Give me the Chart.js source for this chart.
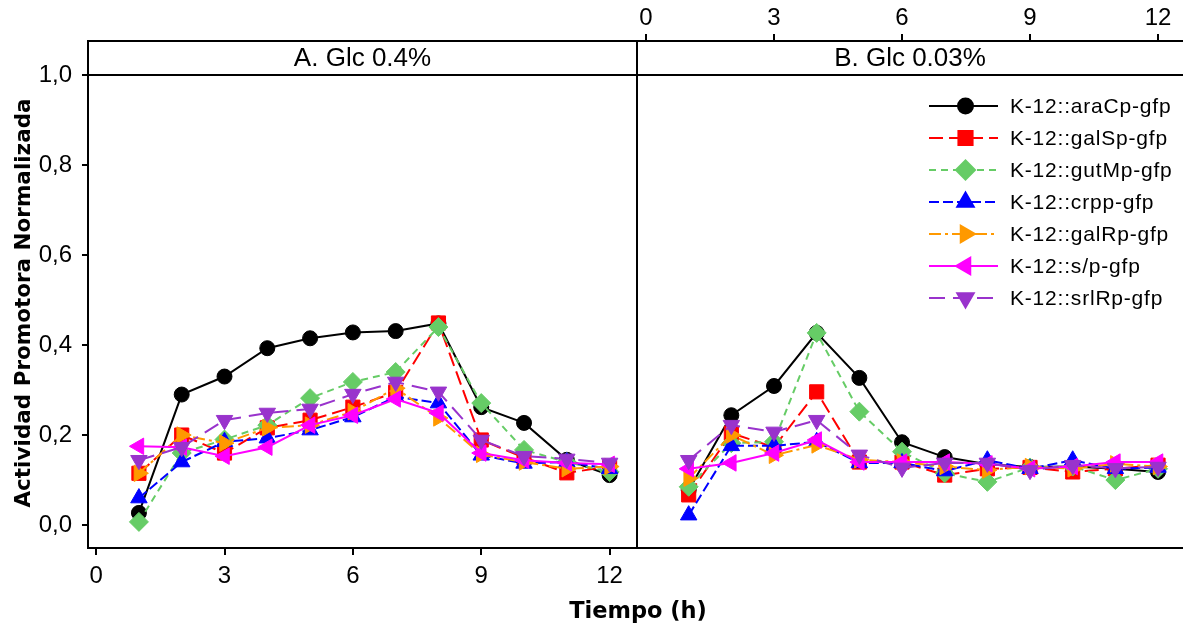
<!DOCTYPE html>
<html>
<head>
<meta charset="utf-8">
<script src="https://cdn.jsdelivr.net/npm/chart.js@4.4.0/dist/chart.umd.min.js"></script>
<style>
html, body { margin: 0; padding: 0; background: #fff; }
#wrap { position: relative; width: 1183px; height: 625px; overflow: hidden; }
#wrap canvas { position: absolute; left: 0; top: 0; }
</style>
</head>
<body>
<div id="wrap">
<canvas id="panelA" width="1183" height="625"></canvas>
<canvas id="panelB" width="1183" height="625"></canvas>
</div>
<script>
// Time points (h) and axis ticks
const hours = [1, 2, 3, 4, 5, 6, 7, 8, 9, 10, 11, 12];
const xTicks = [0, 3, 6, 9, 12];
const yTicks = [0, 0.2, 0.4, 0.6, 0.8, 1.0];
const panelTitles = ['A. Glc 0.4%', 'B. Glc 0.03%'];
const xTitle = 'Tiempo (h)';
const yTitle = 'Actividad Promotora Normalizada';
const seriesNames = [
  'K-12::araCp-gfp', 'K-12::galSp-gfp', 'K-12::gutMp-gfp', 'K-12::crpp-gfp',
  'K-12::galRp-gfp', 'K-12::s/p-gfp', 'K-12::srlRp-gfp'
];

// Panel A: Glc 0.4%
const araCpA = [0.027, 0.290, 0.330, 0.393, 0.415, 0.428, 0.431, 0.448, 0.262, 0.227, 0.145, 0.111];
const galSpA = [0.115, 0.200, 0.160, 0.216, 0.233, 0.262, 0.295, 0.449, 0.189, 0.150, 0.116, 0.130];
const gutMpA = [0.007, 0.160, 0.190, 0.222, 0.282, 0.318, 0.340, 0.440, 0.271, 0.167, 0.140, 0.118];
const crppA  = [0.060, 0.140, 0.185, 0.193, 0.211, 0.240, 0.285, 0.271, 0.155, 0.137, 0.140, 0.125];
const galRpA = [0.115, 0.200, 0.182, 0.216, 0.222, 0.252, 0.304, 0.238, 0.157, 0.140, 0.125, 0.130];
const slpA   = [0.175, 0.173, 0.153, 0.173, 0.222, 0.244, 0.280, 0.249, 0.160, 0.144, 0.138, 0.135];
const srlRpA = [0.144, 0.173, 0.233, 0.249, 0.258, 0.291, 0.318, 0.296, 0.189, 0.153, 0.147, 0.138];

// Panel B: Glc 0.03%
const araCpB = [0.078, 0.244, 0.309, 0.427, 0.327, 0.184, 0.151, 0.135, 0.129, 0.130, 0.125, 0.118];
const galSpB = [0.067, 0.204, 0.173, 0.296, 0.140, 0.140, 0.111, 0.125, 0.128, 0.118, 0.125, 0.133];
const gutMpB = [0.085, 0.182, 0.185, 0.427, 0.252, 0.163, 0.115, 0.096, 0.128, 0.130, 0.100, 0.125];
const crppB  = [0.022, 0.176, 0.176, 0.185, 0.138, 0.138, 0.120, 0.144, 0.125, 0.144, 0.125, 0.128];
const galRpB = [0.104, 0.200, 0.155, 0.178, 0.145, 0.140, 0.130, 0.122, 0.130, 0.125, 0.136, 0.130];
const slpB   = [0.125, 0.138, 0.160, 0.189, 0.140, 0.140, 0.140, 0.136, 0.125, 0.130, 0.140, 0.140];
const srlRpB = [0.144, 0.222, 0.207, 0.233, 0.156, 0.127, 0.138, 0.138, 0.122, 0.133, 0.126, 0.129];

const seriesA = [araCpA, galSpA, gutMpA, crppA, galRpA, slpA, srlRpA];
const seriesB = [araCpB, galSpB, gutMpB, crppB, galRpB, slpB, srlRpB];

// Look of each series
const colors = ['#000000', '#ff0000', '#66cc66', '#0000ff', '#ff9900', '#ff00ff', '#9933cc'];
const dashes = [[], [14, 6], [7, 5], [10, 4], [12, 4, 3, 4], [], [16, 8]];
const pointStyles = ['circle', 'rect', 'rectRot', 'triangle', 'triangle', 'triangle', 'triangle'];
const rotations = [0, 0, 0, 0, 90, -90, 180];
const radii = [7.5, 10, 9.5, 9.5, 9.5, 9.5, 9.5];

const tickFont = { family: '"Liberation Sans", Arial, sans-serif', size: 24 };

function makeDatasets(series) {
  return series.map((vals, i) => ({
    label: seriesNames[i],
    data: hours.map((h, k) => ({ x: h, y: vals[k] })),
    borderColor: colors[i],
    backgroundColor: colors[i],
    borderWidth: 2,
    borderDash: dashes[i],
    pointStyle: pointStyles[i],
    pointRotation: rotations[i],
    pointRadius: radii[i],
    pointBackgroundColor: colors[i],
    pointBorderColor: colors[i],
    pointBorderWidth: 1,
    tension: 0,
    order: 6 - i
  }));
}

function setTicks(list) {
  return (scale) => { scale.ticks = list.map(v => ({ value: v })); };
}

function drawFrame(chart, isLeft) {
  const { ctx, chartArea: a } = chart;
  const y1 = chart.scales.y.getPixelForValue(1);
  ctx.save();
  ctx.strokeStyle = '#000';
  ctx.lineWidth = 2;
  ctx.beginPath();
  ctx.moveTo(a.left, a.bottom);
  ctx.lineTo(a.left, a.top);
  ctx.lineTo(a.right, a.top);
  if (isLeft) {
    ctx.moveTo(a.right, a.top);
    ctx.lineTo(a.right, a.bottom);
  }
  ctx.moveTo(a.left - 1, a.bottom);
  ctx.lineTo(a.right, a.bottom);
  ctx.moveTo(a.left, y1);
  ctx.lineTo(a.right, y1);
  ctx.stroke();

  // strip label
  ctx.fillStyle = '#000';
  ctx.font = '26px "Liberation Sans", Arial, sans-serif';
  ctx.textAlign = 'center';
  ctx.textBaseline = 'middle';
  ctx.fillText(panelTitles[isLeft ? 0 : 1], (a.left + a.right) / 2, (a.top + y1) / 2 + 1);
  ctx.restore();
}

const panelAPlugin = {
  id: 'panelA',
  afterDatasetsDraw(chart) {
    drawFrame(chart, true);
    const ctx = chart.ctx;
    ctx.save();
    ctx.fillStyle = '#000';
    ctx.font = 'bold 22.5px "DejaVu Sans", Verdana, sans-serif';
    ctx.textAlign = 'center';
    ctx.textBaseline = 'alphabetic';
    ctx.fillText(xTitle, 638, 618);
    ctx.translate(30, 303);
    ctx.rotate(-Math.PI / 2);
    ctx.font = 'bold 21.5px "DejaVu Sans", Verdana, sans-serif';
    ctx.fillText(yTitle, 0, 0);
    ctx.restore();
  }
};

const panelBPlugin = {
  id: 'panelB',
  afterDatasetsDraw(chart) {
    drawFrame(chart, false);
    // legend
    const ctx = chart.ctx;
    const x0 = 929, x1 = 998, xm = 965.5, xt = 1010;
    ctx.save();
    seriesNames.forEach((name, i) => {
      const y = 106 + i * 32;
      ctx.strokeStyle = colors[i];
      ctx.fillStyle = colors[i];
      ctx.lineWidth = 2;
      ctx.setLineDash(dashes[i]);
      ctx.beginPath();
      ctx.moveTo(x0, y);
      ctx.lineTo(x1, y);
      ctx.stroke();
      ctx.setLineDash([]);
      Chart.helpers.drawPoint(ctx, {
        pointStyle: pointStyles[i], rotation: rotations[i], radius: radii[i], borderWidth: 1
      }, xm, y);
      ctx.fillStyle = '#000';
      ctx.font = '21px "Liberation Sans", Arial, sans-serif';
      ctx.letterSpacing = '0.8px';
      ctx.textAlign = 'left';
      ctx.textBaseline = 'middle';
      ctx.fillText(name, xt, y + 1);
      ctx.letterSpacing = '0px';
    });
    ctx.restore();
  }
};

function axisGrid(len) {
  return { display: true, drawOnChartArea: false, drawTicks: true, tickLength: len, color: '#000', lineWidth: 2 };
}

function fixHeight(h) {
  return (s) => { s.height = h; s.paddingLeft = 0; s.paddingRight = 0; };
}

const commonOpts = {
  responsive: false,
  animation: false,
  events: [],
  plugins: { legend: { display: false }, tooltip: { enabled: false } }
};

new Chart(document.getElementById('panelA'), {
  type: 'line',
  data: { datasets: makeDatasets(seriesA) },
  options: {
    ...commonOpts,
    layout: { autoPadding: false, padding: { top: 41, right: 546, left: 0, bottom: 0 } },
    scales: {
      x: {
        type: 'linear', position: 'bottom', min: -0.19, max: 12.64,
        afterBuildTicks: setTicks(xTicks),
        afterFit: fixHeight(77),
        grid: axisGrid(7),
        border: { display: false },
        ticks: { color: '#000', font: tickFont, padding: 7, maxRotation: 0 }
      },
      y: {
        type: 'linear', min: -0.051, max: 1.0756,
        afterBuildTicks: setTicks(yTicks),
        afterFit: (s) => { s.width = 88; s.paddingTop = 0; s.paddingBottom = 0; },
        grid: axisGrid(6),
        border: { display: false },
        ticks: {
          color: '#000', font: tickFont, padding: 10,
          callback: (v) => v.toFixed(1).replace('.', ',')
        }
      }
    }
  },
  plugins: [panelAPlugin]
});

new Chart(document.getElementById('panelB'), {
  type: 'line',
  data: { datasets: makeDatasets(seriesB) },
  options: {
    ...commonOpts,
    layout: { autoPadding: false, padding: { top: 0, right: 0, left: 637, bottom: 77 } },
    scales: {
      x: {
        type: 'linear', position: 'top', min: -0.211, max: 12.585,
        afterBuildTicks: setTicks(xTicks),
        afterFit: fixHeight(41),
        grid: axisGrid(7),
        border: { display: false },
        ticks: { color: '#000', font: tickFont, padding: 1, maxRotation: 0 }
      },
      y: { type: 'linear', display: false, min: -0.051, max: 1.0756 }
    }
  },
  plugins: [panelBPlugin]
});
</script>
</body>
</html>
